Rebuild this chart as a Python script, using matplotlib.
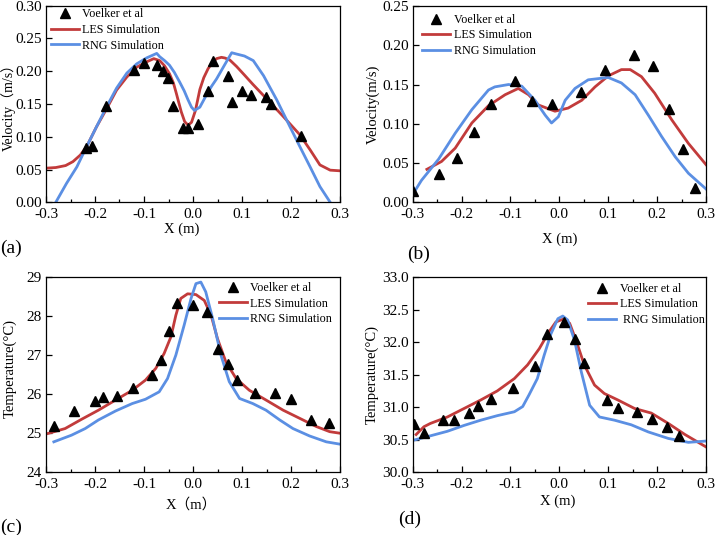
import matplotlib
matplotlib.use("Agg")
import matplotlib.pyplot as plt
from matplotlib.ticker import MultipleLocator, FormatStrFormatter

plt.rcParams['font.family'] = ['Liberation Serif', 'Noto Sans CJK SC', 'DejaVu Sans']
plt.rcParams['axes.unicode_minus'] = False

RED = '#C23B3B'
BLUE = '#5B8FE3'

# ---------------- panel (a) ----------------
a_exp_x = [-0.218, -0.207, -0.178, -0.120, -0.100, -0.073, -0.061, -0.051, -0.041, -0.020, -0.010,
           0.010, 0.031, 0.040, 0.071, 0.080, 0.101, 0.119, 0.149, 0.159, 0.220]
a_exp_y = [0.083, 0.086, 0.147, 0.202, 0.212, 0.209, 0.200, 0.190, 0.147, 0.114, 0.114,
           0.120, 0.170, 0.215, 0.193, 0.153, 0.170, 0.164, 0.160, 0.150, 0.101]
a_les_x = [-0.300, -0.280, -0.260, -0.245, -0.230, -0.217, -0.197, -0.176, -0.156, -0.135, -0.115,
           -0.095, -0.080, -0.068, -0.058, -0.048, -0.040, -0.034, -0.024, -0.017, -0.010, -0.003,
           0.005, 0.014, 0.022, 0.031, 0.040, 0.048, 0.058, 0.065, 0.075, 0.089, 0.105, 0.122,
           0.150, 0.184, 0.218, 0.239, 0.259, 0.280, 0.300]
a_les_y = [0.052, 0.053, 0.056, 0.062, 0.072, 0.085, 0.115, 0.143, 0.171, 0.191, 0.206,
           0.214, 0.219, 0.216, 0.208, 0.196, 0.182, 0.166, 0.138, 0.123, 0.1175, 0.122,
           0.140, 0.172, 0.190, 0.204, 0.213, 0.219, 0.221, 0.220, 0.217, 0.207, 0.194, 0.180,
           0.158, 0.131, 0.103, 0.080, 0.057, 0.049, 0.048]
a_rng_x = [-0.280, -0.258, -0.237, -0.217, -0.197, -0.176, -0.156, -0.135, -0.115, -0.095, -0.074,
           -0.068, -0.058, -0.048, -0.038, -0.027, -0.018, -0.010, -0.003, 0.003, 0.014, 0.027,
           0.038, 0.048, 0.058, 0.068, 0.079, 0.089, 0.105, 0.123, 0.144, 0.171, 0.198, 0.218,
           0.239, 0.259, 0.280]
a_rng_y = [0.000, 0.029, 0.054, 0.085, 0.115, 0.146, 0.174, 0.197, 0.211, 0.220, 0.227,
           0.222, 0.216, 0.209, 0.198, 0.183, 0.170, 0.156, 0.145, 0.140, 0.145, 0.163,
           0.177, 0.188, 0.201, 0.214, 0.228, 0.226, 0.223, 0.216, 0.193, 0.156, 0.115, 0.085,
           0.054, 0.024, 0.000]

# ---------------- panel (b) ----------------
b_exp_x = [-0.300, -0.246, -0.209, -0.174, -0.140, -0.091, -0.055, -0.016, 0.044, 0.093, 0.152,
           0.192, 0.225, 0.252, 0.277]
b_exp_y = [0.015, 0.036, 0.056, 0.090, 0.125, 0.154, 0.129, 0.125, 0.141, 0.169, 0.188,
           0.173, 0.119, 0.068, 0.018]
b_les_x = [-0.271, -0.241, -0.213, -0.179, -0.145, -0.111, -0.084, -0.063, -0.043, -0.009, 0.018,
           0.046, 0.073, 0.100, 0.127, 0.145, 0.168, 0.195, 0.230, 0.264, 0.300]
b_les_y = [0.042, 0.052, 0.069, 0.101, 0.123, 0.137, 0.145, 0.137, 0.124, 0.116, 0.120,
           0.130, 0.147, 0.161, 0.169, 0.169, 0.160, 0.139, 0.105, 0.075, 0.048]
b_rng_x = [-0.300, -0.282, -0.247, -0.213, -0.179, -0.145, -0.132, -0.104, -0.077, -0.050, -0.029,
           -0.016, -0.002, 0.012, 0.032, 0.059, 0.100, 0.127, 0.155, 0.182, 0.209, 0.237, 0.264, 0.300]
b_rng_y = [0.010, 0.028, 0.055, 0.088, 0.118, 0.143, 0.147, 0.150, 0.148, 0.130, 0.111,
           0.101, 0.109, 0.130, 0.145, 0.156, 0.159, 0.152, 0.137, 0.111, 0.084, 0.058, 0.037, 0.017]

# ---------------- panel (c) ----------------
c_exp_x = [-0.284, -0.243, -0.200, -0.184, -0.155, -0.122, -0.083, -0.065, -0.049, -0.033, -0.001,
           0.028, 0.052, 0.072, 0.090, 0.127, 0.167, 0.200, 0.240, 0.277]
c_exp_y = [25.18, 25.58, 25.83, 25.94, 25.96, 26.15, 26.49, 26.88, 27.62, 28.34, 28.29,
           28.11, 27.15, 26.76, 26.36, 26.04, 26.03, 25.87, 25.33, 25.25]
c_les_x = [-0.300, -0.261, -0.227, -0.193, -0.158, -0.124, -0.097, -0.076, -0.059, -0.045, -0.035,
           -0.025, -0.011, 0.006, 0.023, 0.037, 0.050, 0.067, 0.088, 0.115, 0.149, 0.184, 0.218,
           0.252, 0.279, 0.300]
c_les_y = [24.98, 25.12, 25.36, 25.59, 25.85, 26.10, 26.36, 26.66, 27.04, 27.47, 28.02,
           28.45, 28.57, 28.55, 28.40, 28.02, 27.42, 26.83, 26.40, 26.10, 25.85, 25.59, 25.38,
           25.17, 25.04, 25.00]
c_rng_x = [-0.284, -0.248, -0.220, -0.193, -0.158, -0.124, -0.097, -0.069, -0.052, -0.035, -0.018,
           -0.004, 0.006, 0.016, 0.026, 0.040, 0.057, 0.074, 0.095, 0.122, 0.149, 0.177, 0.204,
           0.238, 0.272, 0.300]
c_rng_y = [24.78, 24.95, 25.12, 25.34, 25.57, 25.76, 25.87, 26.06, 26.40, 27.00, 27.77,
           28.45, 28.83, 28.87, 28.62, 27.94, 27.00, 26.32, 25.89, 25.76, 25.59, 25.34, 25.12,
           24.93, 24.78, 24.72]

# ---------------- panel (d) ----------------
d_exp_x = [-0.297, -0.277, -0.238, -0.216, -0.184, -0.166, -0.140, -0.095, -0.050, -0.026, 0.010,
           0.032, 0.051, 0.097, 0.121, 0.159, 0.189, 0.221, 0.245]
d_exp_y = [30.74, 30.61, 30.80, 30.80, 30.91, 31.02, 31.12, 31.29, 31.63, 32.12, 32.31,
           32.04, 31.68, 31.11, 30.99, 30.93, 30.82, 30.70, 30.56]
d_les_x = [-0.293, -0.277, -0.264, -0.229, -0.195, -0.161, -0.127, -0.092, -0.065, -0.041, -0.021,
           -0.007, 0.007, 0.021, 0.034, 0.051, 0.072, 0.092, 0.120, 0.154, 0.188, 0.223, 0.257, 0.300]
d_les_y = [30.58, 30.70, 30.75, 30.85, 30.98, 31.11, 31.25, 31.44, 31.65, 31.90, 32.16,
           32.31, 32.35, 32.29, 32.03, 31.65, 31.34, 31.21, 31.11, 30.98, 30.91, 30.75, 30.58, 30.39]
d_rng_x = [-0.300, -0.264, -0.229, -0.195, -0.161, -0.127, -0.092, -0.075, -0.062, -0.045, -0.031,
           -0.017, -0.003, 0.007, 0.017, 0.031, 0.045, 0.062, 0.082, 0.113, 0.147, 0.182, 0.223,
           0.264, 0.300]
d_rng_y = [30.49, 30.56, 30.63, 30.72, 30.80, 30.87, 30.93, 31.01, 31.19, 31.44, 31.80,
           32.13, 32.36, 32.40, 32.34, 32.03, 31.54, 31.03, 30.85, 30.80, 30.73, 30.62, 30.52,
           30.46, 30.48]

exp_label = 'Voelker et al'
les_label = 'LES Simulation'
rng_labels = ['RNG Simulation', 'RNG Simulation', 'RNG Simulation', ' RNG Simulation']

W, H = 715, 535
fig = plt.figure(figsize=(W / 100, H / 100), dpi=100)


def px_axes(l, t, r, b):
    return fig.add_axes([l / W, 1 - b / H, (r - l) / W, (b - t) / H])


panels = [
    dict(box=(46, 5.5, 340, 202.3), ex=a_exp_x, ey=a_exp_y, lx=a_les_x, ly=a_les_y, rx=a_rng_x, ry=a_rng_y,
         ylim=(0, 0.3), ystep=0.05, yfmt='%.2f', ylabel='Velocity（m/s）', xlabel='X (m)', ylfs=10,
         ylc=(-0.104, 0.5), xlc=(0.46, -0.105), leg=(0.017, 0.985), tag='(a)', tagpos=(0, 248)),
    dict(box=(412.7, 6, 706, 202.3), ex=b_exp_x, ey=b_exp_y, lx=b_les_x, ly=b_les_y, rx=b_rng_x, ry=b_rng_y,
         ylim=(0, 0.25), ystep=0.05, yfmt='%.2f', ylabel='Velocity(m/s)', xlabel='X (m)', ylfs=10.5,
         ylc=(-0.111, 0.5), xlc=(0.50, -0.155), leg=(0.032, 0.96), tag='(b)', tagpos=(407, 254)),
    dict(box=(46, 277, 340, 472.3), ex=c_exp_x, ey=c_exp_y, lx=c_les_x, ly=c_les_y, rx=c_rng_x, ry=c_rng_y,
         ylim=(24, 29), ystep=1, yfmt='%d', ylabel='Temperature(°C)', xlabel='X（m）', ylfs=10.5,
         ylc=(-0.099, 0.53), xlc=(0.495, -0.130), leg=(0.588, 0.975), tag='(c)', tagpos=(0, 527)),
    dict(box=(412.7, 277, 706, 472.3), ex=d_exp_x, ey=d_exp_y, lx=d_les_x, ly=d_les_y, rx=d_rng_x, ry=d_rng_y,
         ylim=(30, 33), ystep=0.5, yfmt='%.1f', ylabel='Temperature(°C)', xlabel='X (m)', ylfs=10.5,
         ylc=(-0.116, 0.5), xlc=(0.494, -0.115), leg=(0.598, 0.97), tag='(d)', tagpos=(398, 519)),
]

for i, p in enumerate(panels):
    ax = px_axes(*p['box'])
    ax.plot(p['lx'], p['ly'], color=RED, lw=2.0, label=les_label, zorder=2)
    ax.plot(p['rx'], p['ry'], color=BLUE, lw=2.0, label=rng_labels[i], zorder=2)
    ax.plot(p['ex'], p['ey'], ls='none', marker='^', color='black', ms=6.8, label=exp_label, zorder=3)
    ax.set_xlim(-0.3, 0.3)
    ax.set_ylim(*p['ylim'])
    ax.xaxis.set_major_locator(MultipleLocator(0.1))
    ax.xaxis.set_minor_locator(MultipleLocator(0.05))
    ax.xaxis.set_major_formatter(FormatStrFormatter('%.1f'))
    ax.yaxis.set_major_locator(MultipleLocator(p['ystep']))
    ax.yaxis.set_major_formatter(FormatStrFormatter(p['yfmt']))
    ax.tick_params(which='both', direction='in', top=False, right=False, labelsize=11, width=0.9)
    ax.tick_params(which='major', length=4)
    ax.tick_params(which='minor', length=2.5)
    ax.tick_params(axis='x', pad=4)
    ax.tick_params(axis='y', pad=3)
    for s in ax.spines.values():
        s.set_linewidth(0.9)
    ax.set_ylabel(p['ylabel'], fontsize=p['ylfs'])
    ax.set_xlabel(p['xlabel'], fontsize=10.5)
    ax.yaxis.set_label_coords(*p['ylc'])
    ax.xaxis.set_label_coords(*p['xlc'])
    h, l = ax.get_legend_handles_labels()
    order = [2, 0, 1]
    ax.legend([h[k] for k in order], [l[k] for k in order], loc='upper left',
              bbox_to_anchor=p['leg'], frameon=False, fontsize=8.7, borderpad=0,
              borderaxespad=0, handlelength=2.3, handletextpad=0.3, labelspacing=0.3)
    fig.text(p['tagpos'][0] / W, 1 - p['tagpos'][1] / H, p['tag'], fontsize=14,
             ha='left', va='center')

fig.savefig('out.png', dpi=100)
